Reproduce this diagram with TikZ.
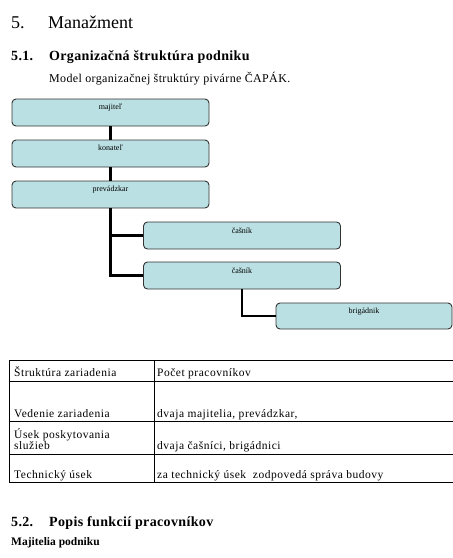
\documentclass[tikz,border=0pt]{standalone}
\usepackage{fontspec}
\setmainfont{Liberation Serif}
\usepackage{xcolor}
\usetikzlibrary{positioning}
\definecolor{orgfill}{HTML}{BBE0E3}
\definecolor{orgedge}{HTML}{333333}
\tikzset{
  orgbox/.style={draw=orgedge,fill=orgfill,rounded corners=1.4mm,line width=0.9pt,inner sep=0pt,minimum width=197pt,text height=10.5pt,text depth=16.5pt,font=\fontsize{8}{9}\selectfont},
  orgline/.style={line width=2.2pt,black},
  tabline/.style={line width=0.8pt,black},
  celltext/.style={anchor=base west,inner sep=0pt,font=\fontsize{11.5}{12}\selectfont\addfontfeature{LetterSpace=4.5}},
  headtext/.style={anchor=base west,inner sep=0pt,font=\fontsize{18}{20}\selectfont},
  subhead/.style={anchor=base west,inner sep=0pt,font=\fontsize{14}{16}\selectfont\bfseries\addfontfeature{LetterSpace=2.5}},
  bodytext/.style={anchor=base west,inner sep=0pt,font=\fontsize{12}{14}\selectfont\addfontfeature{LetterSpace=3}}
}
\begin{document}
\begin{tikzpicture}[x=1pt,y=-1pt]
  \useasboundingbox[fill=white] (0,0) rectangle (453,558);
  \node[headtext] (hnum) at (11,28) {5.};
  \node[headtext] (htitle) at (48,28) {Manažment};
  \node[subhead] (snum) at (11,60) {5.1.};
  \node[subhead] (stitle) at (49,60) {Organizačná štruktúra podniku};
  \node[bodytext] (model) at (49,82) {Model organizačnej štruktúry pivárne ČAPÁK.};
  \node[orgbox] (maj) at (110.5,112.5) {majiteľ};
  \node[orgbox] (kon) at (110.5,153.5) {konateľ};
  \node[orgbox] (prev) at (110.5,194.5) {prevádzkar};
  \node[orgbox,text height=11pt,text depth=16pt] (cas1) at (242,235.5) {čašník};
  \node[orgbox,text height=11pt,text depth=16pt] (cas2) at (242,275.5) {čašník};
  \node[orgbox,minimum width=176pt,text height=10.5pt,text depth=15.5pt] (brig) at (364,316) {brigádnik};
  \draw[orgline] (maj) -- (kon);
  \draw[orgline] (kon) -- (prev);
  \draw[orgline] (prev.south) |- (cas1.west);
  \draw[orgline] (prev.south) |- (cas2.west);
  \draw[orgline] (cas2.south) |- (brig.west);
  \draw[tabline] (453,360) -- (9,360) -- (9,482) -- (453,482);
  \draw[tabline] (9,381) -- (453,381);
  \draw[tabline] (9,421) -- (453,421);
  \draw[tabline] (9,454) -- (453,454);
  \draw[tabline] (154,360) -- (154,482);
  \node[celltext] (c11) at (14,376) {Štruktúra zariadenia};
  \node[celltext] (c12) at (157,376) {Počet pracovníkov};
  \node[celltext] (c21) at (14,417) {Vedenie zariadenia};
  \node[celltext] (c22) at (157,417) {dvaja majitelia, prevádzkar,};
  \node[celltext] (c31) at (14,438) {Úsek poskytovania};
  \node[celltext] (c31b) at (14,449.5) {služieb};
  \node[celltext] (c32) at (157,449.5) {dvaja čašníci, brigádnici};
  \node[celltext] (c41) at (14,478) {Technický úsek};
  \node[celltext] (c42) at (157,478) {za technický úsek\ \ zodpovedá správa budovy};
  \node[subhead] (pnum) at (11,526) {5.2.};
  \node[subhead] (ptitle) at (49,526) {Popis funkcií pracovníkov};
  \node[anchor=base west,inner sep=0pt,font=\fontsize{11.5}{13}\selectfont\bfseries] (majpod) at (11,545) {Majitelia podniku};
\end{tikzpicture}
\end{document}
